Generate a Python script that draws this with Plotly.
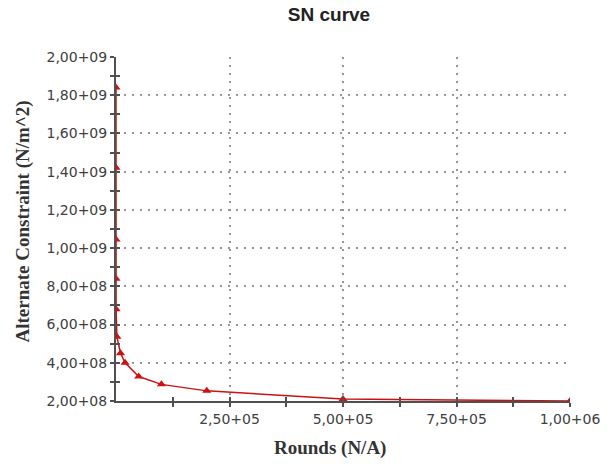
import plotly.graph_objects as go

# Data (cycles vs alternating stress)
rounds = [10, 20, 50, 100, 200, 2000, 10000, 20000, 50000, 100000, 200000, 500000, 1000000]
stress = [1.84e9, 1.42e9, 1.045e9, 8.4e8, 6.8e8, 5.36e8, 4.5e8, 4.0e8, 3.28e8, 2.87e8,
          2.53e8, 2.1e8, 2.0e8]

y_tickvals = [2e8, 4e8, 6e8, 8e8, 1e9, 1.2e9, 1.4e9, 1.6e9, 1.8e9, 2e9]
y_ticktext = ["2,00+08", "4,00+08", "6,00+08", "8,00+08", "1,00+09",
              "1,20+09", "1,40+09", "1,60+09", "1,80+09", "2,00+09"]
x_tickvals = [250000, 500000, 750000, 1000000]
x_ticktext = ["2,50+05", "5,00+05", "7,50+05", "1,00+06"]

RED = "#cc1111"
AX = "#505050"
GRID = "#959595"
x_range = [0, 1000000]
y_range = [2e8, 2e9]

fig = go.Figure()
fig.add_trace(go.Scatter(
    x=rounds, y=stress, mode="lines+markers",
    line=dict(color=RED, width=1.5),
    marker=dict(symbol="triangle-up", size=8, color=RED),
    showlegend=False, hoverinfo="x+y"))
# invisible trace to activate overlay axes (inside ticks)
fig.add_trace(go.Scatter(
    x=rounds, y=stress, xaxis="x2", yaxis="y2", mode="markers",
    marker=dict(opacity=0), showlegend=False, hoverinfo="skip"))

tickfont = dict(family="DejaVu Sans", size=14, color="#404040")
titlefont = dict(family="Liberation Serif", size=19, color="#333333")

fig.update_layout(
    width=611, height=464,
    margin=dict(l=116, r=41, t=57, b=63),
    paper_bgcolor="white", plot_bgcolor="white",
    title=dict(text="<b>SN curve</b>", x=(329 - 116) / 454, xref="paper", xanchor="center",
               y=1 - 14 / 464, yref="container", yanchor="middle",
               font=dict(family="Liberation Sans", size=19, color="#222222")),
    annotations=[
        dict(text="<b>Rounds (N/A)</b>", xref="paper", yref="paper",
             x=(330 - 116) / 454, y=(401 - 448) / 344, xanchor="center", yanchor="middle",
             showarrow=False, font=titlefont),
        dict(text="<b>Alternate Constraint (N/m^2)</b>", xref="paper", yref="paper",
             x=(22 - 116) / 454, y=(401 - 221.5) / 344, xanchor="center", yanchor="middle",
             textangle=-90, showarrow=False, font=titlefont),
    ],
    xaxis=dict(
        range=x_range, tickmode="array", tickvals=x_tickvals, ticktext=x_ticktext,
        ticks="outside", ticklen=4, tickwidth=2, tickcolor=AX, automargin=False,
        minor=dict(tickmode="array", tickvals=[125000, 375000, 625000, 875000],
                   ticks="outside", ticklen=4, tickwidth=2, tickcolor=AX, showgrid=False),
        showline=True, linecolor=AX, linewidth=2,
        showgrid=True, gridcolor=GRID, griddash="2px,6px", gridwidth=1.5,
        zeroline=False, tickfont=tickfont,
    ),
    yaxis=dict(
        range=y_range, tickmode="array", tickvals=y_tickvals, ticktext=y_ticktext,
        ticks="outside", ticklen=4, tickwidth=2, tickcolor=AX, automargin=False,
        minor=dict(tickmode="array",
                   tickvals=[3e8, 5e8, 7e8, 9e8, 1.1e9, 1.3e9, 1.5e9, 1.7e9, 1.9e9],
                   ticks="outside", ticklen=4, tickwidth=2, tickcolor=AX, showgrid=False),
        showline=True, linecolor=AX, linewidth=2,
        showgrid=True, gridcolor=GRID, griddash="2px,6px", gridwidth=1.5,
        zeroline=False, tickfont=tickfont,
    ),
    xaxis2=dict(
        overlaying="x", range=x_range, showticklabels=False, showgrid=False,
        zeroline=False, tickmode="array", automargin=False,
        tickvals=[125000, 250000, 375000, 500000, 625000, 750000, 875000],
        ticks="inside", ticklen=4, tickwidth=2, tickcolor=AX, side="bottom",
    ),
    yaxis2=dict(
        overlaying="y", range=y_range, showticklabels=False, showgrid=False,
        zeroline=False, tickmode="array", automargin=False,
        tickvals=[3e8, 4e8, 5e8, 6e8, 7e8, 8e8, 9e8, 1e9, 1.1e9, 1.2e9, 1.3e9,
                  1.4e9, 1.5e9, 1.6e9, 1.7e9, 1.8e9, 1.9e9],
        ticks="inside", ticklen=4, tickwidth=2, tickcolor=AX, side="left",
    ),
)

fig.write_html("out.html", config={"displayModeBar": False},
               post_script="document.body.style.margin='0';document.body.style.padding='0';")
